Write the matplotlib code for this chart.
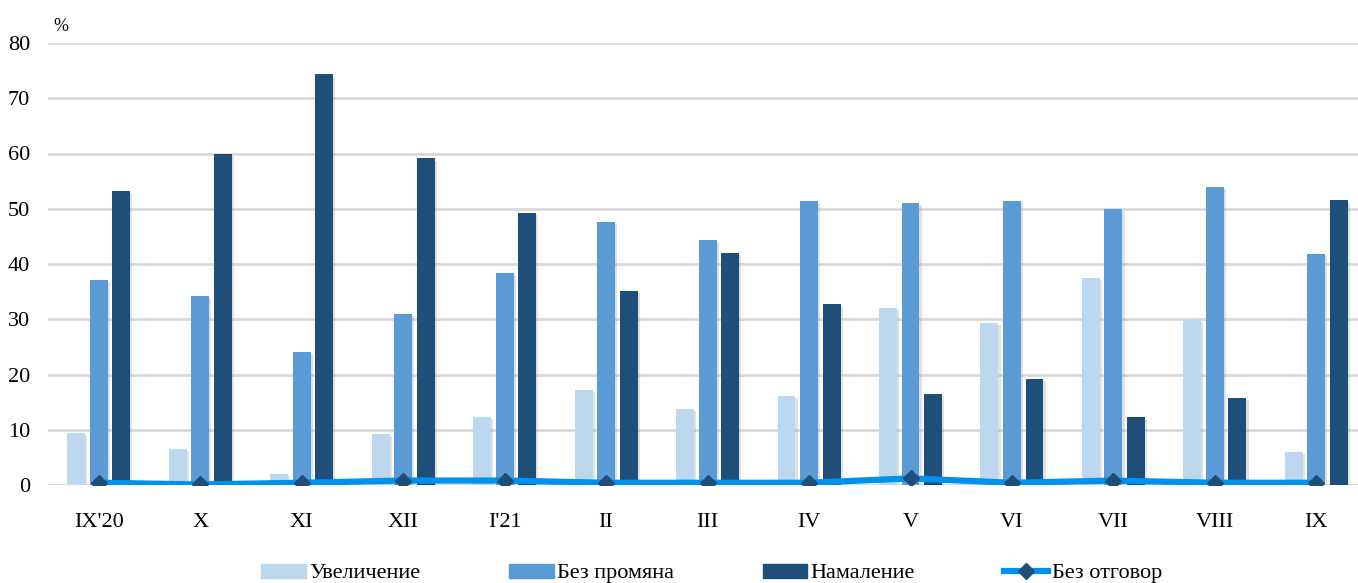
import numpy as np
import matplotlib
matplotlib.use("Agg")
import matplotlib.pyplot as plt
import matplotlib.patheffects as pe
from matplotlib.patches import Patch
from matplotlib.lines import Line2D

# Data
months = ["IX'20", "X", "XI", "XII", "I'21", "II", "III", "IV", "V", "VI", "VII", "VIII", "IX"]
uvelichenie = [9.5, 6.5, 2.0, 9.2, 12.3, 17.2, 13.7, 16.1, 32.0, 29.3, 37.4, 29.8, 6.0]
bez_promyana = [37.1, 34.2, 24.0, 30.9, 38.3, 47.6, 44.3, 51.4, 51.0, 51.4, 49.9, 53.9, 41.8]
namalenie = [53.3, 59.9, 74.3, 59.1, 49.2, 35.1, 42.0, 32.7, 16.5, 19.2, 12.3, 15.7, 51.5]
bez_otgovor = [0.4, 0.1, 0.4, 0.8, 0.8, 0.4, 0.4, 0.4, 1.2, 0.4, 0.8, 0.4, 0.4]

c_light = "#BDD7EE"
c_mid = "#5B9BD5"
c_dark = "#1F4E79"
c_line = "#0091EE"

plt.rcParams['font.family'] = ['Liberation Serif', 'DejaVu Serif']

fig = plt.figure(figsize=(13.58, 5.83), dpi=100)
ax = fig.add_axes([48/1358, 98/583, 1310/1358, 442/583])

x = np.arange(len(months))
w = 0.177
off = 0.222
shadow = [pe.withSimplePatchShadow(offset=(1.5, -1.5), shadow_rgbFace='#888888', alpha=0.25)]
ax.bar(x - off, uvelichenie, w, color=c_light, path_effects=shadow, zorder=3)
ax.bar(x, bez_promyana, w, color=c_mid, path_effects=shadow, zorder=3)
ax.bar(x + off, namalenie, w, color=c_dark, path_effects=shadow, zorder=3)
ax.plot(x, bez_otgovor, color=c_line, lw=4.5, marker='D', ms=8,
        mfc=c_dark, mec=c_dark, zorder=4)

ax.set_xlim(-0.5, 12.41)
ax.set_ylim(0, 80)
ax.set_yticks(range(0, 81, 10))
ax.set_xticks(x)
ax.set_xticklabels(months)
ax.grid(axis='y', color='#D9D9D9', lw=2, zorder=0)
ax.set_axisbelow(True)
for s in ax.spines.values():
    s.set_visible(False)
ax.tick_params(axis='both', length=0, labelsize=16)
ax.tick_params(axis='x', pad=20)
ax.tick_params(axis='y', pad=13)

ax.text(0.004, 1.018, "%", transform=ax.transAxes, fontsize=13, ha='left', va='bottom')

handles = [
    Patch(color=c_light, label="Увеличение"),
    Patch(color=c_mid, label="Без промяна"),
    Patch(color=c_dark, label="Намаление"),
    Line2D([0], [0], color=c_line, lw=4.5, marker='D', ms=8, mfc=c_dark, mec=c_dark, label="Без отговор"),
]
fig.legend(handles=handles, loc='lower center', bbox_to_anchor=(0.524, -0.035), ncol=4,
           frameon=False, fontsize=16, handlelength=2.0, handleheight=0.6,
           handletextpad=0.15, columnspacing=4.0)

plt.savefig("out.png", dpi=100)
